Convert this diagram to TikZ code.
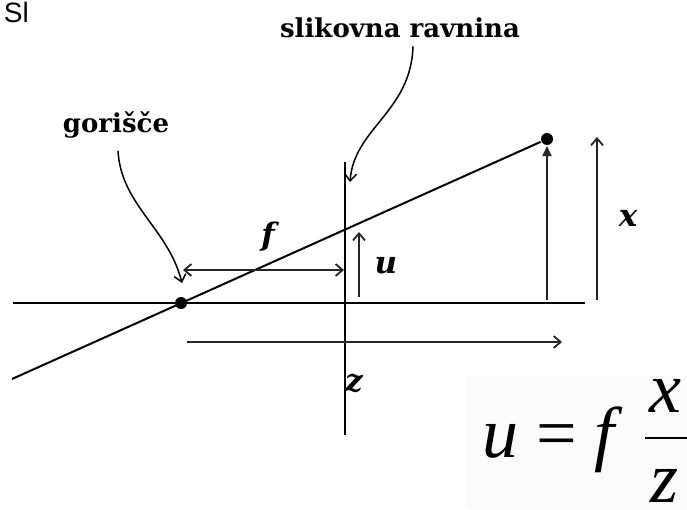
\documentclass[tikz,border=0pt]{standalone}
\usepackage{fontspec}
\setmainfont{Liberation Serif}
\newfontfamily\lblfont{DejaVu Serif}
\newfontfamily\slfont{Liberation Sans}
\newfontfamily\eqfont{Liberation Serif}
\usetikzlibrary{arrows.meta}

\begin{document}
\begin{tikzpicture}[x=1pt,y=-1pt,line width=2pt,
  lbl/.style={font=\lblfont\bfseries\fontsize{26}{30}\selectfont,inner sep=0pt},
  var/.style={font=\lblfont\bfseries\itshape\fontsize{31}{34}\selectfont,inner sep=0pt},
  eq/.style={font=\eqfont\fontsize{72}{72}\selectfont,inner sep=0pt},
  dot/.style={circle,fill=black,inner sep=0pt,minimum size=12pt},
  barb/.style={-{Straight Barb[length=7pt,width=12pt]}},
  dim/.style={black!85,line width=1.8pt}]
\clip (0,0) rectangle (687,509);
\fill[black!1.5] (467,375) rectangle (687,509);
\node[anchor=base west,inner sep=0pt,font=\slfont\fontsize{28}{28}\selectfont] (sl) at (3,22) {Sl};
\node[lbl,anchor=base] (ravn) at (400,37) {slikovna ravnina};
\node[lbl,anchor=base] (gor) at (116,132) {gorišče};
\draw (13,303) -- (585,303);
\draw (345,162) -- (345,435);
\node[dot] (F) at (181,303) {};
\node[dot] (P) at (547,139) {};
\coordinate (rayL) at (12,379);
\draw (rayL) -- (P);
\coordinate (gortip) at (182,283);
\coordinate (ravntip) at (350,182);
\draw[barb,line width=1.5pt] (gor.south)+(2,12) .. controls (121,205) and (168,228) .. (gortip);
\draw[barb,line width=1.5pt] (ravn.south)+(13,8) .. controls (411,112) and (354,128) .. (ravntip);
\draw[dim,-{Triangle[length=10pt,width=9pt]}] (547,300) -- (P.south);
\draw[dim,barb] (597,300) -- (597,137);
\node[var] (x) at (628,218) {x};
\draw[dim,barb] (359,297) -- (359,232);
\node[var] (u) at (386,266) {u};
\draw[dim,{Straight Barb[length=7pt,width=12pt]}-{Straight Barb[length=7pt,width=12pt]}] (183,270) -- (344,270);
\node[var] (f) at (268,237) {f};
\draw[dim,barb] (187,342) -- (562,342);
\node[var] (z) at (354,383) {z};
\node[eq,anchor=base west] (eqL) at (481,457) {\itshape u\/ \upshape= \itshape f};
\node[eq,anchor=base] (num) at (665,412) {\itshape x};
\node[eq,anchor=base] (den) at (664,502) {\itshape z};
\draw[line width=2.5pt] (645,438) -- (700,438);
\end{tikzpicture}
\end{document}
